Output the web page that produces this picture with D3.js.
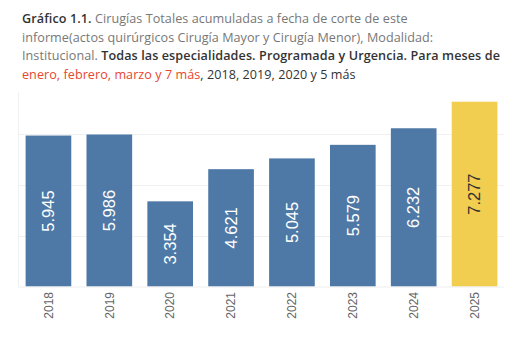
<!DOCTYPE html>
<html>
<head>
<meta charset="utf-8">
<script src="https://cdn.jsdelivr.net/npm/d3@7"></script>
<style>
  body { margin: 0; background: #fff; }
  svg { display: block; }
</style>
</head>
<body>
<svg id="chart" width="520" height="339"></svg>
<script>
/* data */
var years = ["2018", "2019", "2020", "2021", "2022", "2023", "2024", "2025"];
var totals = [5945, 5986, 3354, 4621, 5045, 5579, 6232, 7277];
var gridTicks = [2000, 4000, 6000];

var svg = d3.select("#chart");

/* title, broken in four lines with mixed styles */
var titleLines = [
  [{ t: "Gráfico 1.1.", c: "#333", b: true }, { t: " Cirugías Totales acumuladas a fecha de corte de este", c: "#777" }],
  [{ t: "informe(actos quirúrgicos Cirugía Mayor y Cirugía Menor), Modalidad:", c: "#777" }],
  [{ t: "Institucional.", c: "#777" }, { t: " Todas las especialidades. Programada y Urgencia. Para meses de", c: "#333", b: true }],
  [{ t: "enero, febrero, marzo y 7 más", c: "#e8462f" }, { t: ", 2018, 2019, 2020 y 5 más", c: "#333" }]
];

var title = svg.append("text")
  .attr("font-family", "'Open Sans', sans-serif")
  .attr("font-size", 12.6);

titleLines.forEach(function(line, i) {
  line.forEach(function(part, j) {
    var ts = title.append("tspan")
      .attr("fill", part.c)
      .attr("font-weight", part.b ? 600 : 400)
      .attr("letter-spacing", part.b ? 0.1 : 0.05)
      .text(part.t);
    if (j === 0) ts.attr("x", 22).attr("y", 23 + i * 18.5);
  });
});

/* scales */
var x = d3.scaleBand().domain(years).range([18, 505]).paddingInner(0.25).paddingOuter(0.125);
var y = d3.scaleLinear().domain([0, 7660]).range([286.5, 92]);

/* grid and axis lines */
svg.selectAll(".grid").data(gridTicks).enter().append("line")
  .attr("x1", 18).attr("x2", 504)
  .attr("y1", function(d) { return Math.round(y(d)) + 0.5; })
  .attr("y2", function(d) { return Math.round(y(d)) + 0.5; })
  .attr("stroke", "#f0f0f0");

svg.append("line")
  .attr("x1", 18.5).attr("x2", 18.5).attr("y1", 92).attr("y2", y(0))
  .attr("stroke", "#f0f0f0");

/* bars */
svg.selectAll(".bar").data(totals).enter().append("rect")
  .attr("x", function(d, i) { return x(years[i]); })
  .attr("width", x.bandwidth())
  .attr("y", function(d) { return y(d); })
  .attr("height", function(d) { return y(0) - y(d); })
  .attr("fill", function(d, i) { return i === years.length - 1 ? "#f1cd50" : "#4e79a7"; });

svg.append("line")
  .attr("x1", 18).attr("x2", 504).attr("y1", y(0) + 0.5).attr("y2", y(0) + 0.5)
  .attr("stroke", "#eeeeee");

/* value labels inside the bars */
var fmt = d3.formatLocale({ decimal: ",", thousands: ".", grouping: [3], currency: ["", ""] }).format(",");

svg.selectAll(".val").data(totals).enter().append("text")
  .attr("transform", function(d, i) {
    var cx = x(years[i]) + x.bandwidth() / 2;
    var cy = (y(d) + y(0)) / 2;
    return "translate(" + cx + "," + cy + ") rotate(-90)";
  })
  .attr("text-anchor", "middle")
  .attr("dy", "0.35em")
  .attr("font-family", "'Liberation Sans', Arial, sans-serif")
  .attr("font-size", 16.5)
  .attr("fill", function(d, i) { return i === years.length - 1 ? "#333" : "#fff"; })
  .text(function(d) { return fmt(d); });

/* year labels under the axis */
svg.selectAll(".yr").data(years).enter().append("text")
  .attr("transform", function(d) {
    return "translate(" + (x(d) + x.bandwidth() / 2) + "," + 292 + ") rotate(-90)";
  })
  .attr("text-anchor", "end")
  .attr("dy", "0.35em")
  .attr("font-family", "'Liberation Sans', Arial, sans-serif")
  .attr("font-size", 12)
  .attr("fill", "#666")
  .text(function(d) { return d; });
</script>
</body>
</html>
